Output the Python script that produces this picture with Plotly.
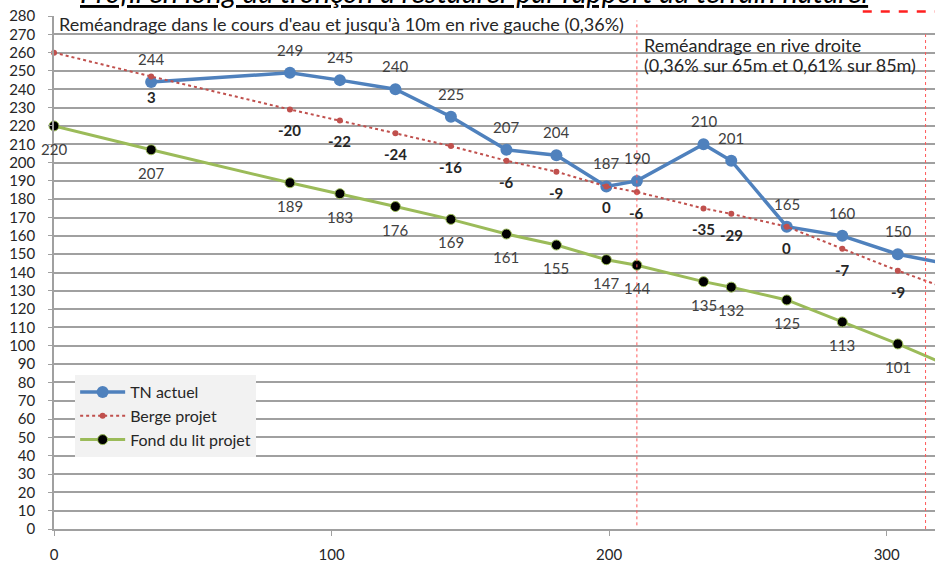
import plotly.graph_objects as go

# ---- data ----
distance_tn = [35, 85, 103, 123, 143, 163, 181, 199, 210, 234, 244, 264, 284, 304, 324]
tn_actuel = [244, 249, 245, 240, 225, 207, 204, 187, 190, 210, 201, 165, 160, 150, 144]

distance_projet = [0, 35, 85, 103, 123, 143, 163, 181, 199, 210, 234, 244, 264, 284, 304, 324]
berge_projet = [260, 247, 229, 223, 216, 209, 201, 195, 187, 184, 175, 172, 165, 153, 141, 130]
fond_lit_projet = [220, 207, 189, 183, 176, 169, 161, 155, 147, 144, 135, 132, 125, 113, 101, 88]

limites_troncon = [210, 314]
x_ticks = [0, 100, 200, 300]
y_ticks = list(range(0, 290, 10))
x_max = 317.4
y_max = 280

title_text = "Profil en long du tronçon à restaurer par rapport au terrain naturel"
note_gauche = "Reméandrage dans le cours d'eau et jusqu'à 10m en rive gauche (0,36%)"
note_droite_1 = "Reméandrage en rive droite"
note_droite_2 = "(0,36% sur 65m et 0,61% sur 85m)"

FONT = "Lato"
BLUE = "#4f81bd"
RED = "#c0504d"
GREEN = "#9bbb59"
LABEL = "#404040"

fig = go.Figure()

fig.add_trace(go.Scatter(
    x=distance_tn, y=tn_actuel, name="TN actuel", mode="lines+markers",
    line=dict(color=BLUE, width=3.5),
    marker=dict(color=BLUE, size=12, line=dict(width=0)),
    cliponaxis=False,
))
fig.add_trace(go.Scatter(
    x=distance_projet, y=berge_projet, name="Berge projet", mode="lines+markers",
    line=dict(color=RED, width=2, dash="dot"),
    marker=dict(color=RED, size=6, line=dict(width=0)),
    cliponaxis=False,
))
fig.add_trace(go.Scatter(
    x=distance_projet, y=fond_lit_projet, name="Fond du lit projet", mode="lines+markers",
    line=dict(color=GREEN, width=3),
    marker=dict(color="black", size=10, line=dict(color=GREEN, width=1)),
    cliponaxis=False,
))

annotations = []
# TN actuel labels (above)
for x, y in zip(distance_tn, tn_actuel):
    if x <= x_max:
        annotations.append(dict(x=x, y=y, xref="x", yref="y", text=str(y), showarrow=False,
                                yshift=23, font=dict(family=FONT, size=15, color=LABEL)))
# Berge projet labels: difference with TN (below, bold)
tn_map = dict(zip(distance_tn, tn_actuel))
for x, y in zip(distance_projet, berge_projet):
    if x in tn_map and x <= x_max:
        annotations.append(dict(x=x, y=y, xref="x", yref="y", text="<b>%d</b>" % (y - tn_map[x]),
                                showarrow=False, yshift=-21,
                                font=dict(family=FONT, size=15, color="#262626")))
# Fond du lit labels (below)
for x, y in zip(distance_projet, fond_lit_projet):
    if x <= x_max:
        annotations.append(dict(x=x, y=y, xref="x", yref="y", text=str(y), showarrow=False,
                                yshift=-23, font=dict(family=FONT, size=15, color=LABEL)))

note_font = dict(family=FONT, size=18, color="#262626")
annotations.append(dict(x=1.2, y=275.7, xref="x", yref="y", xanchor="left", yanchor="middle",
                        text=note_gauche, showarrow=False, font=note_font))
annotations.append(dict(x=211.9, y=264.3, xref="x", yref="y", xanchor="left", yanchor="middle",
                        text=note_droite_1, showarrow=False, font=note_font))
annotations.append(dict(x=211.9, y=253.4, xref="x", yref="y", xanchor="left", yanchor="middle",
                        text=note_droite_2, showarrow=False, font=note_font))
annotations.append(dict(x=0.477, y=1, xref="paper", yref="paper", xanchor="center", yanchor="bottom",
                        yshift=4.5, text="<i><u>" + title_text + "</u></i>", showarrow=False,
                        font=dict(family=FONT, size=29, color="black")))

shapes = []
for xl, y_top in zip(limites_troncon, [277.5, 270]):
    shapes.append(dict(type="line", xref="x", yref="y", x0=xl, x1=xl, y0=2 if xl < 300 else 0, y1=y_top,
                       line=dict(color="#ff5a5a", width=1, dash="dot")))
shapes.append(dict(type="line", xref="paper", yref="paper", x0=0.918, x1=1.0, y0=1.009, y1=1.009,
                   line=dict(color="#ff2020", width=2.5, dash="dash")))

fig.update_layout(
    width=935, height=563,
    margin=dict(l=54, r=0, t=16, b=31),
    paper_bgcolor="white", plot_bgcolor="white",
    font=dict(family=FONT, size=16, color="#404040"),
    showlegend=True,
    legend=dict(x=0.024, y=0.300, xanchor="left", yanchor="top",
                bgcolor="#f2f2f2", borderwidth=0, itemwidth=45,
                font=dict(family=FONT, size=16, color="#262626")),
    annotations=annotations,
    shapes=shapes,
)
fig.update_xaxes(range=[0, x_max], tickvals=x_ticks, showgrid=False, zeroline=False,
                 showline=True, linecolor="#a0a0a0", linewidth=1.5,
                 ticks="outside", ticklen=5, tickcolor="#a0a0a0", ticklabelstandoff=6,
                 tickfont=dict(family=FONT, size=15, color="#262626"))
fig.update_yaxes(range=[0, y_max], tickvals=y_ticks, showgrid=True, gridcolor="#a0a0a0", gridwidth=1.5,
                 zeroline=False, showline=True, linecolor="#a0a0a0", linewidth=1.5,
                 ticks="outside", ticklen=4, tickcolor="#a0a0a0", ticklabelstandoff=10,
                 tickfont=dict(family=FONT, size=15, color="#262626"))

fig.write_html("out.html", config={"displayModeBar": False},
               post_script="document.body.style.margin='0px';document.body.style.padding='0px';")
